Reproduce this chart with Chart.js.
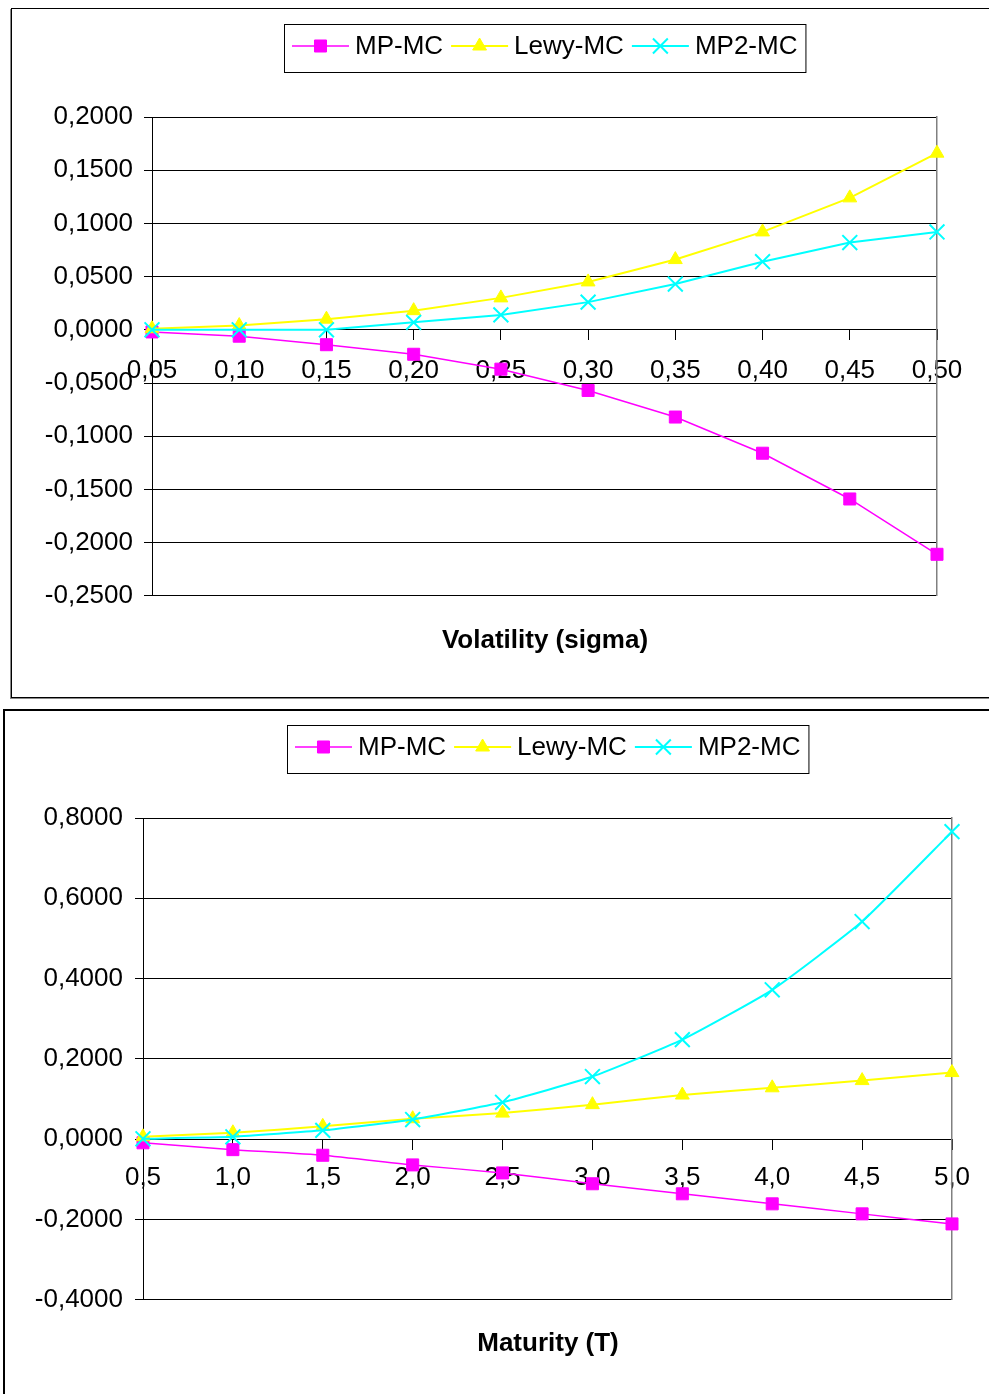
<!DOCTYPE html>
<html>
<head>
<meta charset="utf-8">
<script src="https://cdn.jsdelivr.net/npm/chart.js@4"></script>
<style>
  html, body { margin: 0; padding: 0; background: #fff; overflow: hidden; }
  body { width: 989px; height: 1394px; position: relative; }
  .box { position: absolute; background: #fff; }
  #box1 { left: 11px; top: 8px; width: 1066px; height: 688px; border: 1px solid #000; box-shadow: -1px 1px 0 #888; }
  #box2 { left: 3px; top: 709px; width: 1086px; height: 700px; border: 2px solid #000; }
  canvas { display: block; }
</style>
</head>
<body>
<div class="box" id="box1"><canvas id="chart1"></canvas></div>
<div class="box" id="box2"><canvas id="chart2"></canvas></div>
<script>
'use strict';

// volatility chart
const sigmaLabels = ['0,05', '0,10', '0,15', '0,20', '0,25', '0,30', '0,35', '0,40', '0,45', '0,50'];
const sigmaMpMc   = [-0.002, -0.006, -0.014, -0.023, -0.037, -0.057, -0.082, -0.116, -0.159, -0.211];
const sigmaLevyMc = [0.001, 0.004, 0.010, 0.018, 0.030, 0.045, 0.066, 0.092, 0.124, 0.166];
const sigmaMp2Mc  = [0.000, 0.000, 0.000, 0.007, 0.014, 0.026, 0.043, 0.064, 0.082, 0.092];

// maturity chart
const maturityLabels = ['0,5', '1,0', '1,5', '2,0', '2,5', '3,0', '3,5', '4,0', '4,5', '5,0'];
const matMpMc   = [-0.009, -0.026, -0.040, -0.064, -0.084, -0.111, -0.136, -0.161, -0.186, -0.211];
const matLevyMc = [0.006, 0.016, 0.032, 0.051, 0.065, 0.086, 0.110, 0.128, 0.146, 0.166];
const matMp2Mc  = [0.001, 0.006, 0.022, 0.049, 0.092, 0.156, 0.248, 0.372, 0.542, 0.766];

const FONT = 'Liberation Sans, Arial, sans-serif';
const MAGENTA = '#ff00ff', YELLOW = '#ffff00', CYAN = '#00ffff';

function fmtComma(v) {
  if (Math.abs(v) < 1e-9) v = 0;
  return v.toFixed(4).replace('.', ',');
}

function makeDatasets(mp, levy, mp2, tension) {
  return [
    { label: 'MP-MC', data: mp, borderColor: MAGENTA, backgroundColor: MAGENTA,
      pointStyle: 'rect', pointRadius: 8.5, pointBorderWidth: 1, borderWidth: 1.5, order: 3, tension },
    { label: 'Lewy-MC', data: levy, borderColor: YELLOW, backgroundColor: YELLOW,
      pointStyle: 'triangle', pointRadius: 8, pointBorderWidth: 1, borderWidth: 2, order: 2, tension },
    { label: 'MP2-MC', data: mp2, borderColor: CYAN, backgroundColor: CYAN,
      pointStyle: 'crossRot', pointRadius: 10.5, pointBorderWidth: 2, borderWidth: 2, order: 1, tension },
  ];
}

// legend with a frame, line + marker sample per series
const boxedLegend = {
  id: 'boxedLegend',
  afterDraw(chart, args, opts) {
    const ctx = chart.ctx;
    const sample = 57, gapText = 6, gapItem = 8, padL = 8, padR = 8;
    ctx.save();
    ctx.font = `26px ${FONT}`;
    const items = chart.data.datasets.map(ds => ({ ds, w: ctx.measureText(ds.label).width }));
    let total = padL + padR;
    items.forEach((it, i) => { total += sample + gapText + it.w + (i ? gapItem : 0); });
    const left = Math.round(chart.width / 2 - total / 2);
    const top = opts.top, h = opts.height;
    ctx.fillStyle = '#fff';
    ctx.fillRect(left, top, total, h);
    ctx.strokeStyle = '#000';
    ctx.lineWidth = 1;
    ctx.strokeRect(left + 0.5, top + 0.5, total, h);
    let x = left + padL;
    const cy = top + h / 2 - 2;
    items.forEach((it, i) => {
      if (i) x += gapItem;
      const ds = it.ds;
      ctx.strokeStyle = ds.borderColor;
      ctx.lineWidth = ds.borderWidth;
      ctx.beginPath();
      ctx.moveTo(x, cy);
      ctx.lineTo(x + sample, cy);
      ctx.stroke();
      ctx.fillStyle = ds.backgroundColor;
      ctx.strokeStyle = ds.borderColor;
      ctx.lineWidth = ds.pointBorderWidth;
      Chart.helpers.drawPoint(ctx, { pointStyle: ds.pointStyle, radius: ds.pointRadius, rotation: 0, borderWidth: ds.pointBorderWidth }, x + sample / 2, cy);
      ctx.fillStyle = '#000';
      ctx.textBaseline = 'middle';
      ctx.textAlign = 'left';
      ctx.fillText(ds.label, x + sample + gapText, cy + 1);
      x += sample + gapText + it.w;
    });
    ctx.restore();
  }
};

function buildChart(id, cfg) {
  const canvas = document.getElementById(id);
  canvas.width = cfg.width;
  canvas.height = cfg.height;
  canvas.style.width = cfg.width + 'px';
  canvas.style.height = cfg.height + 'px';
  return new Chart(canvas, {
    type: 'line',
    data: { labels: cfg.labels, datasets: cfg.datasets },
    plugins: [boxedLegend],
    options: {
      responsive: false,
      animation: false,
      devicePixelRatio: 1,
      layout: { padding: { top: cfg.areaTop, left: 0, right: 0, bottom: cfg.padBottom } },
      plugins: {
        legend: { display: false },
        tooltip: { enabled: false },
        title: {
          display: true,
          text: cfg.title,
          position: 'bottom',
          color: '#000',
          font: { family: FONT, size: 26, weight: 'bold' },
          padding: { top: cfg.titlePad, bottom: 0 },
        },
        boxedLegend: { top: cfg.legendTop, height: 48 },
      },
      scales: {
        x: {
          type: 'category',
          position: { y: 0 },
          offset: false,
          grid: { drawOnChartArea: false, drawTicks: true, tickLength: 10, color: '#000' },
          border: { color: '#000', width: 1 },
          ticks: { color: '#000', font: { family: FONT, size: 26 }, padding: cfg.xPad, maxRotation: 0, autoSkip: false },
          afterFit: s => { s.height = 0; },
        },
        y: {
          min: cfg.yMin, max: cfg.yMax,
          position: 'left',
          grid: { color: '#000', lineWidth: 1, tickLength: 8 },
          border: { color: '#000', width: 1 },
          ticks: { stepSize: cfg.yStep, color: '#000', font: { family: FONT, size: 26 }, padding: cfg.yPad, callback: fmtComma },
          afterFit: s => { s.width = cfg.areaLeft; },
        },
        yRight: {
          min: cfg.yMin, max: cfg.yMax,
          position: 'right',
          grid: { drawOnChartArea: false, drawTicks: false },
          border: { color: '#808080', width: 1.5 },
          ticks: { display: false },
          afterFit: s => { s.width = cfg.width - cfg.areaRight; },
        },
      },
    },
  });
}

buildChart('chart1', {
  width: 1066, height: 688,
  labels: sigmaLabels,
  datasets: makeDatasets(sigmaMpMc, sigmaLevyMc, sigmaMp2Mc, 0),
  title: 'Volatility (sigma)',
  areaTop: 108, areaLeft: 140, areaRight: 925, padBottom: 41, titlePad: 29,
  legendTop: 15, xPad: 15, yPad: 11,
  yMin: -0.25, yMax: 0.2, yStep: 0.05,
});

buildChart('chart2', {
  width: 1086, height: 683,
  labels: maturityLabels,
  datasets: makeDatasets(matMpMc, matLevyMc, matMp2Mc, 0.15),
  title: 'Maturity (T)',
  areaTop: 107, areaLeft: 138, areaRight: 947, padBottom: 35, titlePad: 28,
  legendTop: 14, xPad: 13, yPad: 12,
  yMin: -0.4, yMax: 0.8, yStep: 0.2,
});
</script>
</body>
</html>
